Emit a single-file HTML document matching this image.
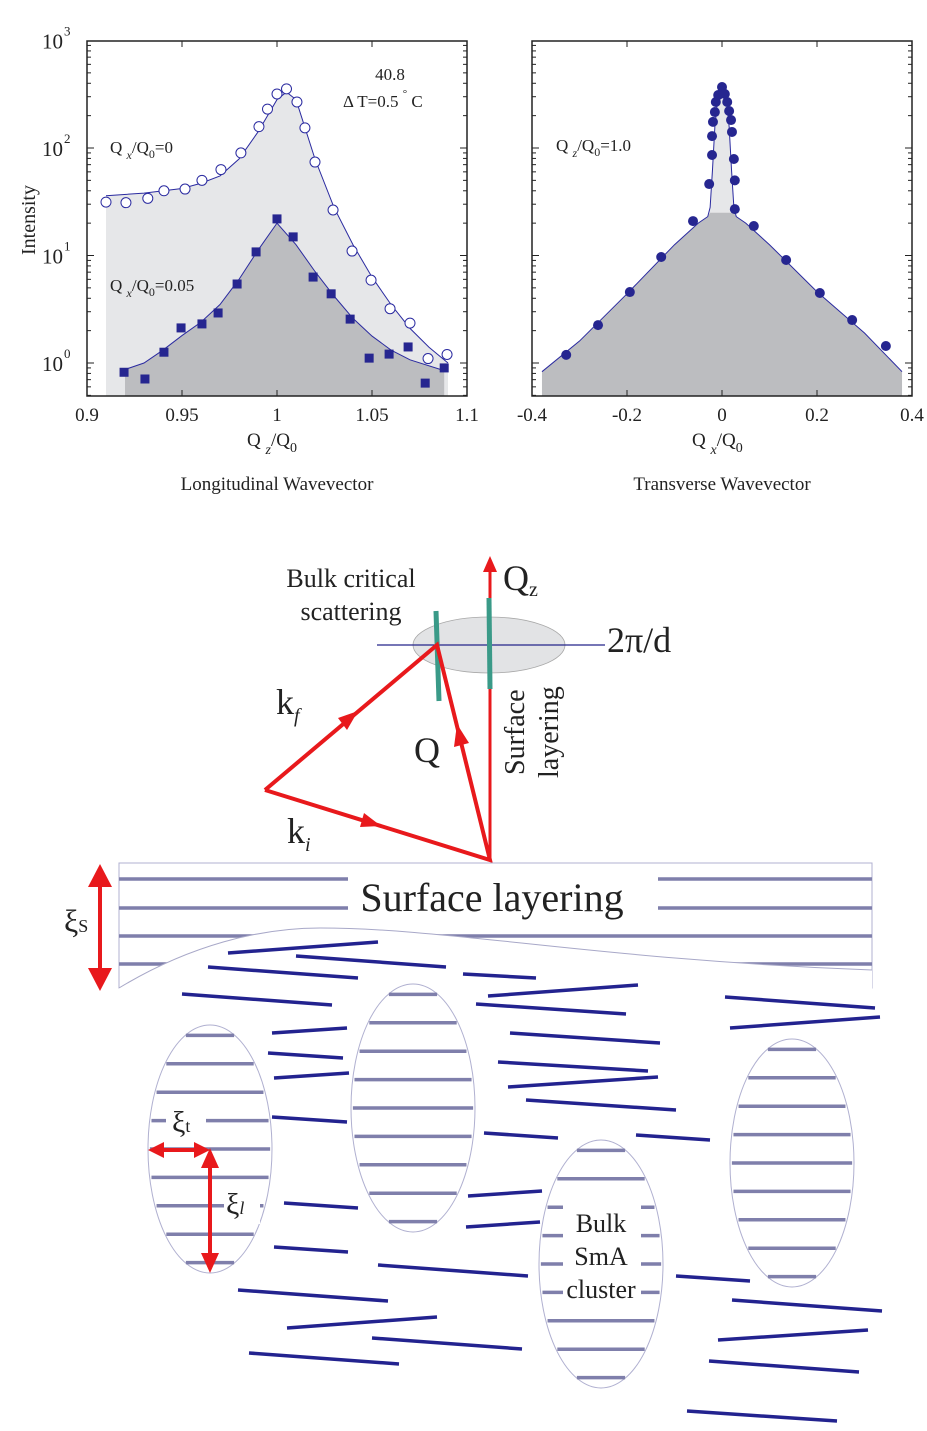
<!DOCTYPE html>
<html><head><meta charset="utf-8">
<style>
html,body{margin:0;padding:0;background:#fff;}
svg{display:block;font-family:"Liberation Serif",serif;}
</style></head>
<body>
<svg id="fig" width="927" height="1431" viewBox="0 0 927 1431" xmlns="http://www.w3.org/2000/svg">
<g id="left"></g>
<g id="right"></g>

<!-- Scattering diagram -->
<g>
  <ellipse cx="489" cy="645" rx="76" ry="28" fill="#e2e3e5" stroke="#a8a8a8" stroke-width="0.8"/>
  <line x1="377" y1="645" x2="605" y2="645" stroke="#24248a" stroke-width="1.2"/>
  <line x1="490" y1="860" x2="490" y2="570" stroke="#e8191c" stroke-width="3"/>
  <polygon points="490,556 483,572 497,572" fill="#e8191c"/>
  <line x1="436" y1="611" x2="439" y2="701" stroke="#3a9a88" stroke-width="5"/>
  <line x1="489" y1="598" x2="490" y2="689" stroke="#3a9a88" stroke-width="5"/>
  <polyline points="265,790 490,860 437,645 265,790" fill="none" stroke="#e8191c" stroke-width="4" stroke-linejoin="miter"/>
  <polygon points="381,826 360,827 364,813" fill="#e8191c"/>
  <polygon points="358,711 347,730 338,718" fill="#e8191c"/>
  <polygon points="457,724 469,743 454,747" fill="#e8191c"/>
  <text x="351" y="587" font-size="26" text-anchor="middle" fill="#222">Bulk critical</text>
  <text x="351" y="620" font-size="26" text-anchor="middle" fill="#222">scattering</text>
  <text x="503" y="590" font-size="36" fill="#222">Q<tspan font-size="20" dy="6">z</tspan></text>
  <text x="607" y="652" font-size="36" fill="#222">2π/d</text>
  <text x="276" y="714" font-size="36" fill="#222">k<tspan font-size="20" dy="8" font-style="italic">f</tspan></text>
  <text x="414" y="762" font-size="36" fill="#222">Q</text>
  <text x="287" y="843" font-size="36" fill="#222">k<tspan font-size="20" dy="8" font-style="italic">i</tspan></text>
  <text transform="translate(524,775) rotate(-90)" font-size="28" fill="#222">Surface</text>
  <text transform="translate(558,778) rotate(-90)" font-size="28" fill="#222">layering</text>
</g>

<!-- Surface layering region -->
<g>
  <rect x="119" y="863" width="753" height="125" fill="#fff" stroke="#b0b0d0" stroke-width="1"/>
  <g stroke="#7f7fab" stroke-width="3.5">
    <line x1="119" y1="879" x2="872" y2="879"/>
    <line x1="119" y1="908" x2="872" y2="908"/>
    <line x1="119" y1="936" x2="872" y2="936"/>
    <line x1="119" y1="964" x2="872" y2="964"/>
  </g>
  <path d="M119,988 C190,945 260,928 320,928 C450,928 600,960 872,970 L872,990 L119,990 Z" fill="#fff" stroke="none"/>
  <path d="M119,988 C190,945 260,928 320,928 C450,928 600,960 872,970" fill="none" stroke="#a8a8c8" stroke-width="1"/>
  <rect x="348" y="870" width="310" height="50" fill="#fff"/>
  <text x="492" y="911" font-size="40" text-anchor="middle" fill="#222">Surface layering</text>
  <line x1="100" y1="880" x2="100" y2="975" stroke="#e8191c" stroke-width="4"/>
  <polygon points="100,864 88,887 112,887" fill="#e8191c"/>
  <polygon points="100,991 88,968 112,968" fill="#e8191c"/>
  <text x="64" y="932" font-size="32" fill="#222">ξ<tspan font-size="18">S</tspan></text>
</g>

<!-- Molecules and clusters -->
<g id="molecules" stroke="#23238f" stroke-width="3.5"></g>
<g id="clusters"></g>
<g>
  <rect x="166" y="1102" width="40" height="38" fill="#fff"/>
  <text x="172" y="1132" font-size="30" fill="#222">ξ<tspan font-size="18">t</tspan></text>
  <line x1="160" y1="1150" x2="200" y2="1150" stroke="#e8191c" stroke-width="4"/>
  <polygon points="148,1150 164,1142 164,1158" fill="#e8191c"/>
  <polygon points="210,1150 194,1142 194,1158" fill="#e8191c"/>
  <line x1="210" y1="1160" x2="210" y2="1262" stroke="#e8191c" stroke-width="4"/>
  <polygon points="210,1148 201,1168 219,1168" fill="#e8191c"/>
  <polygon points="210,1273 201,1253 219,1253" fill="#e8191c"/>
  <rect x="224" y="1180" width="36" height="44" fill="#fff"/>
  <text x="226" y="1214" font-size="30" fill="#222">ξ<tspan font-size="18" font-style="italic">l</tspan></text>
  <rect x="563" y="1205" width="78" height="100" fill="#fff"/>
  <text x="601" y="1232" font-size="26" text-anchor="middle" fill="#222">Bulk</text>
  <text x="601" y="1265" font-size="26" text-anchor="middle" fill="#222">SmA</text>
  <text x="601" y="1298" font-size="26" text-anchor="middle" fill="#222">cluster</text>
</g>
</svg>

<script>
// ---------- Left chart data (longitudinal) ----------
const openX = [0.910,0.9205,0.932,0.9405,0.9516,0.9605,0.9705,0.981,0.9905,0.995,1.0,1.005,1.0105,1.0147,1.02,1.0295,1.0395,1.0495,1.0595,1.07,1.0795,1.0895];
const openI = [31.4,31,34,40,41.5,50,63,90,158,230,318,355,268,154,74,26.5,11,5.9,3.2,2.35,1.1,1.2];
const sqX = [0.9195,0.9305,0.9405,0.9495,0.9605,0.969,0.979,0.989,1.0,1.0085,1.019,1.0285,1.0385,1.0485,1.059,1.069,1.078,1.088];
const sqI = [0.82,0.71,1.26,2.12,2.31,2.92,5.43,10.8,21.9,14.9,6.3,4.4,2.56,1.11,1.21,1.41,0.65,0.90];
const fitOpenX = [0.91,0.93,0.95,0.96,0.97,0.98,0.99,1.0,1.005,1.01,1.02,1.03,1.04,1.05,1.06,1.07,1.08,1.09];
const fitOpenI = [36,38,42,47,55,79,141,282,331,282,79,28,12.6,6.3,3.5,2.1,1.4,1.0];
const fitSqX = [0.92,0.93,0.94,0.95,0.96,0.97,0.98,0.99,1.0,1.01,1.02,1.03,1.04,1.05,1.06,1.07,1.088];
const fitSqI = [0.87,1.0,1.32,1.8,2.4,3.5,6.0,11.2,20,12.6,7.1,4.2,2.6,1.78,1.32,1.07,0.85];
const leftXTicks = [0.9,0.95,1.0,1.05,1.1];
const leftXTickLabels = ["0.9","0.95","1","1.05","1.1"];
// ---------- Right chart data (transverse) ----------
const trX = [-0.328,-0.261,-0.194,-0.128,-0.061,-0.027,-0.021,-0.021,-0.019,-0.015,-0.013,-0.008,0.0,0.006,0.011,0.015,0.019,0.021,0.025,0.027,0.027,0.067,0.135,0.206,0.274,0.345];
const trI = [1.19,2.25,4.57,9.68,20.9,46.2,86.1,129,175,216,268,311,369,318,268,221,182,141,79,50,27,18.8,9.08,4.48,2.51,1.44];
const fitTrX = [-0.379,-0.3,-0.2,-0.1,-0.05,-0.03,-0.025,-0.02,-0.015,-0.01,-0.005,0,0.005,0.01,0.015,0.02,0.025,0.03,0.05,0.1,0.2,0.3,0.379];
const fitTrI = [0.83,1.6,4.4,12.6,20,23,28,63,158,263,331,363,331,263,158,63,28,23,20,12.6,4.6,1.9,0.83];
const bulkLevel = 25;
const rightXTicks = [-0.4,-0.2,0,0.2,0.4];
const rightXTickLabels = ["-0.4","-0.2","0","0.2","0.4"];
const yDecades = [0,1,2,3];

const NS = "http://www.w3.org/2000/svg";
function mk(tag, attrs, parent){const e=document.createElementNS(NS,tag);for(const k in attrs)e.setAttribute(k,attrs[k]);parent.appendChild(e);return e;}
const yTop=41, yBot=396;
const yScale = v => 363 - Math.log10(v)*107.5;

function axes(g, x0, x1, xs, ticks, labels, xlabel, sub, sub2, title, showY){
  const fr = mk('rect',{x:x0,y:yTop,width:x1-x0,height:yBot-yTop,fill:'none',stroke:'#222','stroke-width':1.5},g);
  
  
  ticks.forEach((t,i)=>{
    const x=xs(t);
    mk('line',{x1:x,y1:yBot,x2:x,y2:yBot-6,stroke:'#222','stroke-width':1},g);
    mk('line',{x1:x,y1:yTop,x2:x,y2:yTop+6,stroke:'#222','stroke-width':1},g);
    const tl=mk('text',{x:x,y:421,'font-size':19,'text-anchor':'middle',fill:'#222'},g);
    tl.textContent=labels[i];
    
    
  });
  for(let d=-1; d<3; d++){
    for(let m=1;m<10;m++){
      const v=Math.pow(10,d)*m, y=yScale(v);
      if(y<yTop||y>yBot) continue;
      const len = m===1?7:4;
      mk('line',{x1:x0,y1:y,x2:x0+len,y2:y,stroke:'#222','stroke-width':1},g);
      mk('line',{x1:x1,y1:y,x2:x1-len,y2:y,stroke:'#222','stroke-width':1},g);
    }
  }
  if(showY){
    yDecades.forEach(d=>{
      const y=yScale(Math.pow(10,d));
      const t=mk('text',{x:x0-24,y:y+8,'font-size':21,'text-anchor':'end',fill:'#222'},g);
      t.textContent='10';
      
      
      const s=mk('text',{x:x0-23,y:y-5,'font-size':13,fill:'#222'},g);
      s.textContent=String(d);
    });
    const yt=mk('text',{transform:'translate(35,220) rotate(-90)','font-size':20,'text-anchor':'middle',fill:'#222'},g);
    yt.textContent='Intensity';
    
    
  }
  const cx=(x0+x1)/2;
  const xl=mk('text',{x:cx-30,y:446,'font-size':19,fill:'#222'},g);
  
  
  xl.innerHTML='Q <tspan font-size="14" dy="8" font-style="italic">'+sub+'</tspan><tspan dy="-8">/Q</tspan><tspan font-size="14" dy="6">0</tspan>';
  const tt=mk('text',{x:cx,y:490,'font-size':19,'text-anchor':'middle',fill:'#222'},g);
  tt.textContent=title;
  
  
}

function areaPath(xsArr, ysArr, xs, clip){
  let d='M'+xs(xsArr[0])+','+yBot;
  xsArr.forEach((x,i)=>{let v=ysArr[i]; if(clip!==undefined) v=Math.min(v,clip); d+=' L'+xs(x)+','+yScale(v);});
  d+=' L'+xs(xsArr[xsArr.length-1])+','+yBot+' Z';
  return d;
}
function linePath(xsArr, ysArr, xs){
  return xsArr.map((x,i)=>(i?'L':'M')+xs(x)+','+yScale(ysArr[i])).join(' ');
}

// Left chart
const L=document.getElementById('left');
const lx = v => 87 + (v-0.9)*1900;
const la=mk('path',{d:areaPath(fitOpenX,fitOpenI,lx),fill:'#e6e7e9'},L);


const lb=mk('path',{d:areaPath(fitSqX,fitSqI,lx),fill:'#bcbdc0'},L);


const lc=mk('path',{d:linePath(fitOpenX,fitOpenI,lx),fill:'none',stroke:'#2a2aa0','stroke-width':1},L);


const ld=mk('path',{d:linePath(fitSqX,fitSqI,lx),fill:'none',stroke:'#2a2aa0','stroke-width':1},L);


openX.forEach((x,i)=>{
  const c=mk('circle',{cx:lx(x),cy:yScale(openI[i]),r:5,fill:'#fff',stroke:'#2a2aa0','stroke-width':1},L);
  
  
});
sqX.forEach((x,i)=>{
  const r=mk('rect',{x:lx(x)-4.5,y:yScale(sqI[i])-4.5,width:9,height:9,fill:'#262690'},L);
  
  
});
axes(L,87,467,lx,leftXTicks,leftXTickLabels,'',"z","",'Longitudinal Wavevector',true);
const a1=mk('text',{x:110,y:153,'font-size':17,fill:'#222'},L);
a1.innerHTML='Q <tspan font-size="12" dy="6" font-style="italic">x</tspan><tspan dy="-6">/Q</tspan><tspan font-size="12" dy="5">0</tspan><tspan dy="-5">=0</tspan>';


const a2=mk('text',{x:110,y:291,'font-size':17,fill:'#222'},L);
a2.innerHTML='Q <tspan font-size="12" dy="6" font-style="italic">x</tspan><tspan dy="-6">/Q</tspan><tspan font-size="12" dy="5">0</tspan><tspan dy="-5">=0.05</tspan>';


const a3=mk('text',{x:390,y:80,'font-size':17,'text-anchor':'middle',fill:'#222'},L);
a3.textContent='40.8';


const a4=mk('text',{x:343,y:107,'font-size':17,fill:'#222'},L);
a4.innerHTML='Δ T=0.5 <tspan font-size="11" dy="-10">°</tspan><tspan dy="10"> C</tspan>';



// Right chart
const R=document.getElementById('right');
const rx = v => 722 + v*475;
const ra=mk('path',{d:areaPath(fitTrX,fitTrI,rx),fill:'#e6e7e9'},R);


const rb=mk('path',{d:areaPath(fitTrX,fitTrI,rx,bulkLevel),fill:'#bcbdc0'},R);


const rc=mk('path',{d:linePath(fitTrX,fitTrI,rx),fill:'none',stroke:'#2a2aa0','stroke-width':1},R);


trX.forEach((x,i)=>{
  const c=mk('circle',{cx:rx(x),cy:yScale(trI[i]),r:5,fill:'#262690'},R);
  
  
});
axes(R,532,912,rx,rightXTicks,rightXTickLabels,'',"x","",'Transverse Wavevector',false);
const a5=mk('text',{x:556,y:151,'font-size':17,fill:'#222'},R);
a5.innerHTML='Q <tspan font-size="12" dy="6" font-style="italic">z</tspan><tspan dy="-6">/Q</tspan><tspan font-size="12" dy="5">0</tspan><tspan dy="-5">=1.0</tspan>';



// Molecules
const segs=[[228,953,378,942],[296,956,446,967],[208,967,358,978],[463,974,536,978],[182,994,332,1005],[488,996,638,985],[476,1004,626,1014],[725,997,875,1008],[730,1028,880,1017],[272,1033,347,1028],[510,1033,660,1043],[268,1053,343,1058],[274,1078,349,1073],[498,1062,648,1071],[508,1087,658,1077],[526,1100,676,1110],[272,1117,347,1122],[484,1133,558,1138],[636,1135,710,1140],[468,1196,542,1191],[466,1227,540,1222],[284,1203,358,1208],[274,1247,348,1252],[378,1265,528,1276],[676,1276,750,1281],[238,1290,388,1301],[732,1300,882,1311],[287,1328,437,1317],[372,1338,522,1349],[718,1340,868,1330],[249,1353,399,1364],[709,1361,859,1372],[687,1411,837,1421]];
const M=document.getElementById('molecules');
segs.forEach(s=>{
  const l=mk('line',{x1:s[0],y1:s[1],x2:s[2],y2:s[3]},M);
  
  
});
// Clusters
const C=document.getElementById('clusters');
const ells=[[210,1149],[413,1108],[601,1264],[792,1163]];
ells.forEach(e=>{
  const cx=e[0], cy=e[1], a=62, b=124;
  const el=mk('ellipse',{cx:cx,cy:cy,rx:a,ry:b,fill:'#fff',stroke:'#b0b0d0','stroke-width':1},C);
  
  
  for(let k=-4;k<=4;k++){
    const y=cy+k*28.4; const dy=(y-cy)/b; if(Math.abs(dy)>=0.98) continue;
    const hw=a*Math.sqrt(1-dy*dy)*0.97;
    mk('line',{x1:cx-hw,y1:y,x2:cx+hw,y2:y,stroke:'#7f7fab','stroke-width':3.5},C);
  }
});
</script>
</body></html>
